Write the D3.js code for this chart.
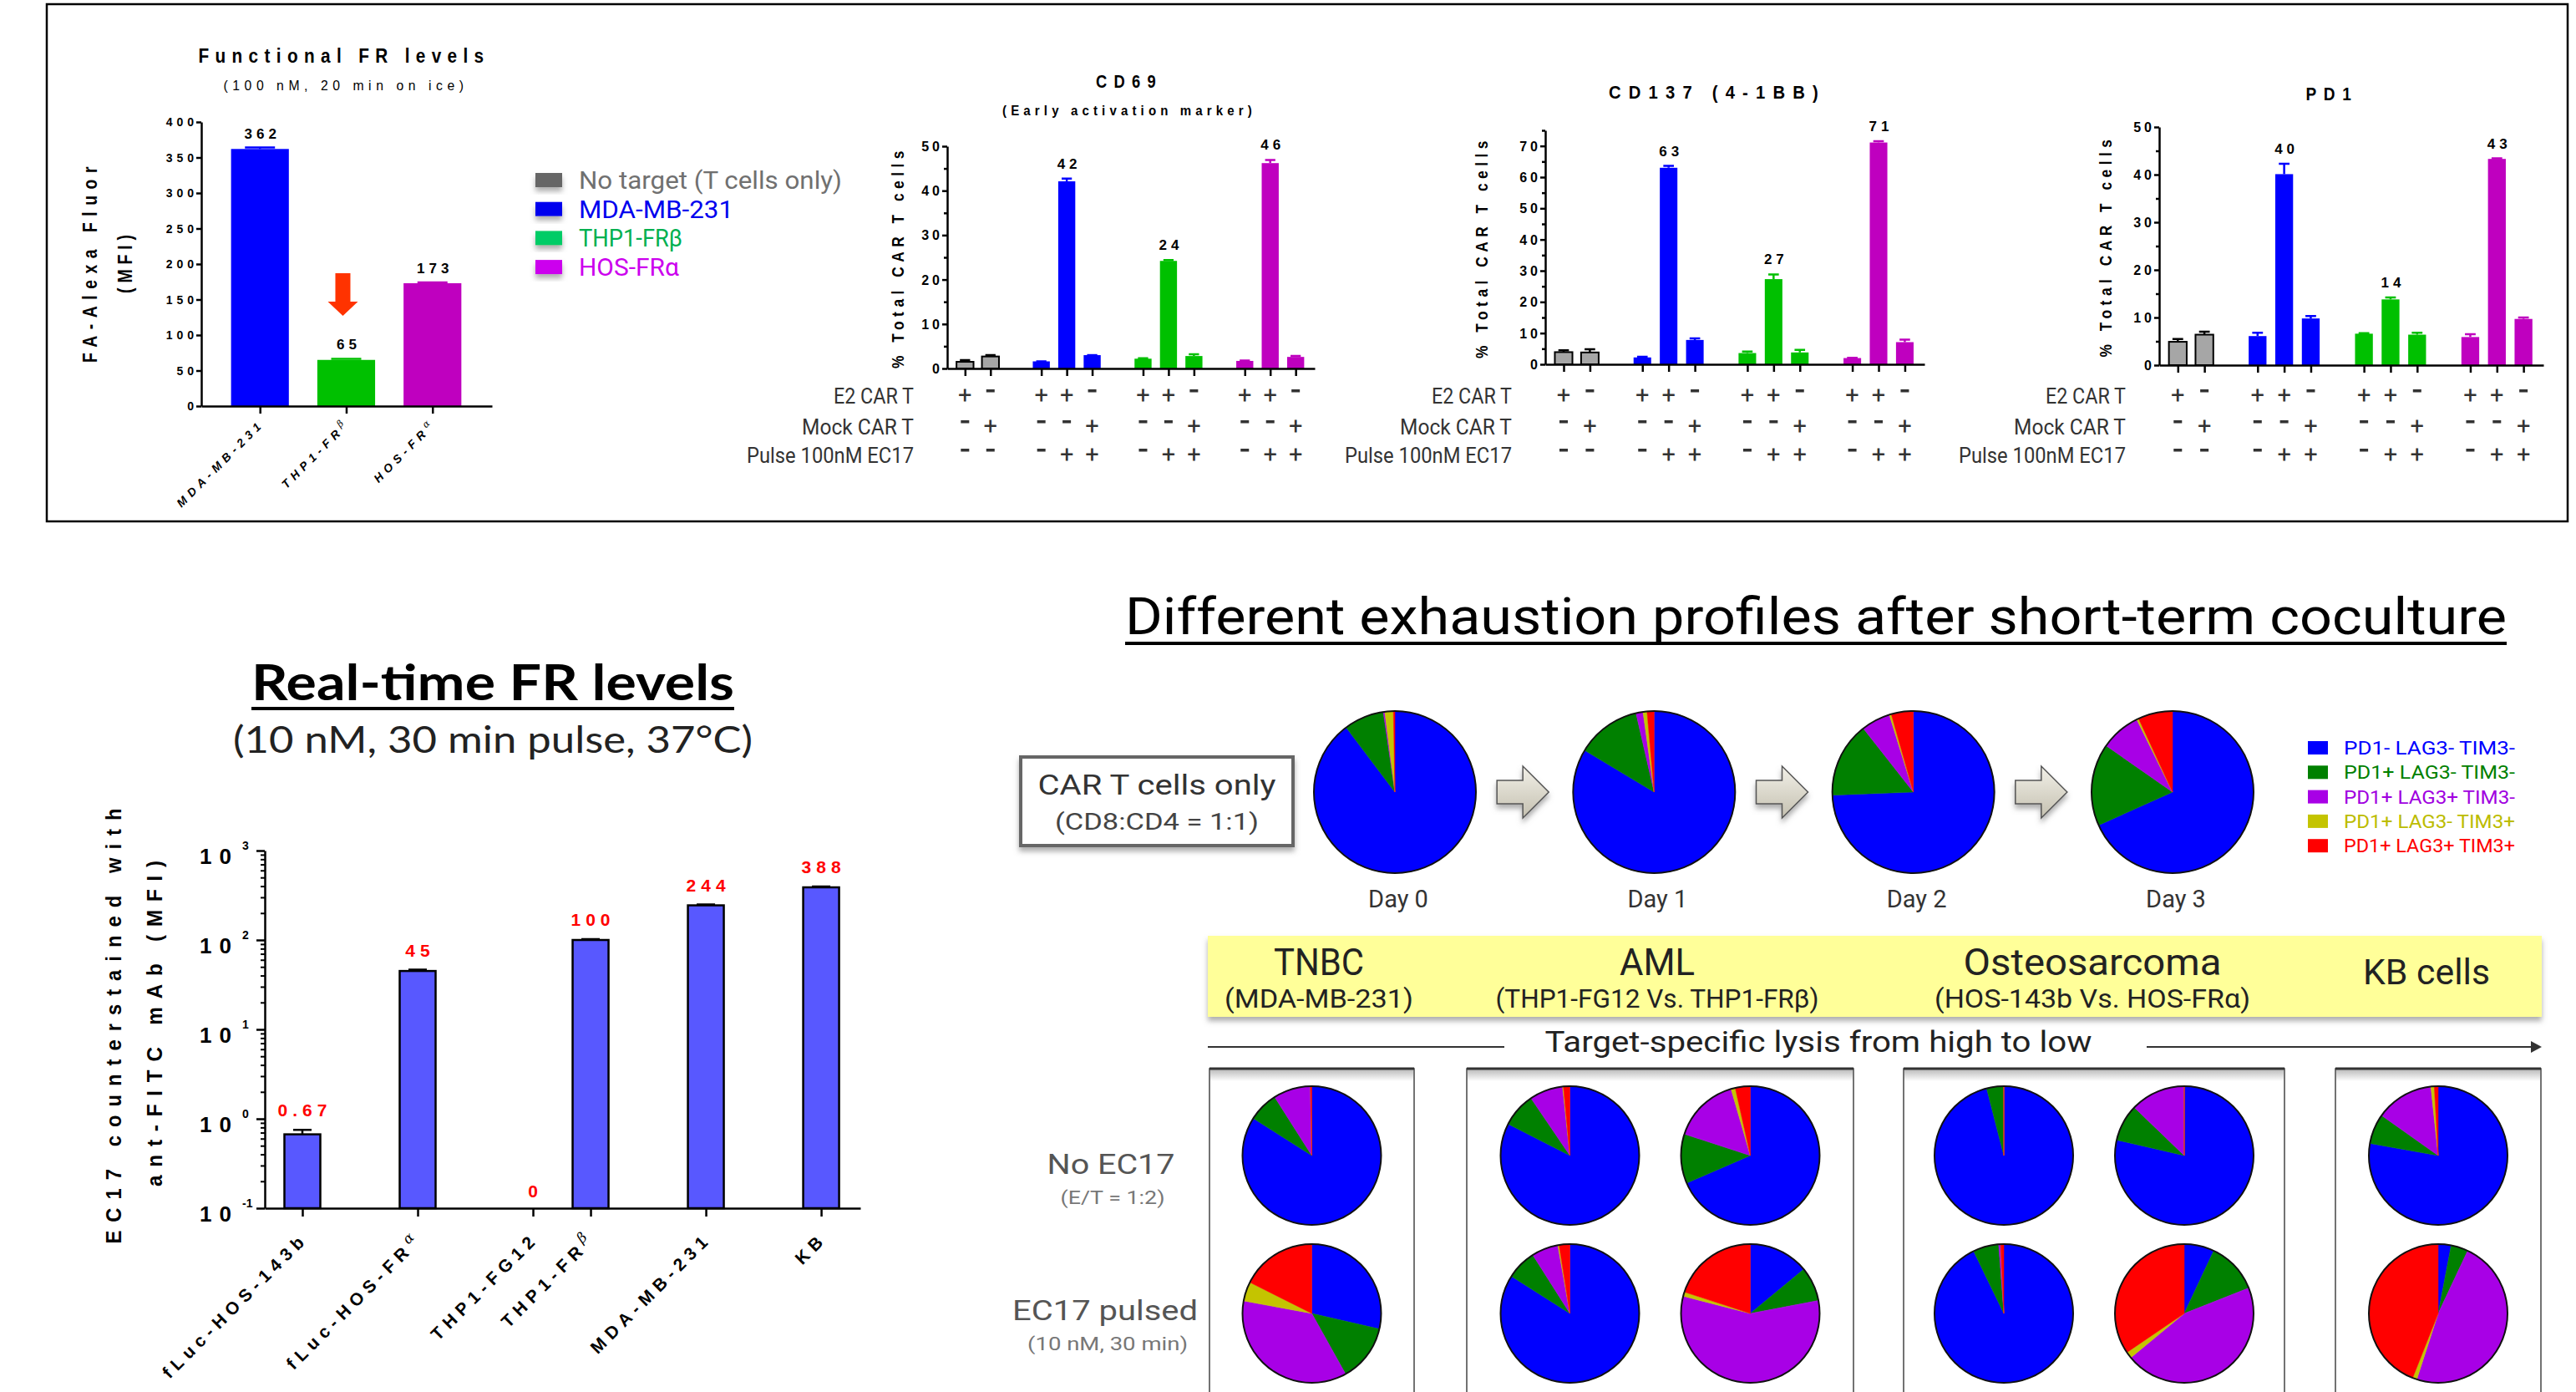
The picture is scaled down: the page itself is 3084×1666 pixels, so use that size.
<!DOCTYPE html>
<html lang="en">
<head>
<meta charset="utf-8">
<title>CAR T activation and exhaustion</title>
<script src="https://cdn.jsdelivr.net/npm/d3@7"></script>
<style>
  body { margin: 0; background: #fff; }
  svg { display: block; }
</style>
</head>
<body>
<div id="chart"></div>
<script>
// ---------- data ----------
// functional FR levels (top left)
const frCells = ["MDA-MB-231", "THP1-FRβ", "HOS-FRα"];
const frValues = [362, 65, 173];
const frErrors = [2, 1.5, 1];
const frColors = ["#0000ff", "#00c000", "#bf00bf"];
const frTicks = d3.range(0, 401, 50);

const legendNames = ["No target (T cells only)", "MDA-MB-231", "THP1-FRβ", "HOS-FRα"];
const legendSwatch = ["#666666", "#0000ee", "#00cc66", "#cc00ee"];
const legendText = ["#707070", "#0000ee", "#00b050", "#cc00ee"];

// activation markers, 11 bars per panel
const barGroups = ["none", "none", "mda", "mda", "mda", "thp", "thp", "thp", "hos", "hos", "hos"];
const groupColors = { none: "#a6a6a6", mda: "#0000ff", thp: "#00c000", hos: "#bf00bf" };
const e2Signs    = ["+", "-", "+", "+", "-", "+", "+", "-", "+", "+", "-"];
const mockSigns  = ["-", "+", "-", "-", "+", "-", "-", "+", "-", "-", "+"];
const pulseSigns = ["-", "-", "-", "+", "+", "-", "+", "+", "-", "+", "+"];
const signRowNames = ["E2 CAR T", "Mock CAR T", "Pulse 100nM EC17"];
const labelledBars = [3, 6, 9];

const cd69Values  = [1.5, 2.7, 1.6, 42.1, 3.0, 2.2, 24.2, 2.8, 1.7, 46.2, 2.6];
const cd69Errors  = [0.4, 0.3, 0.0, 0.6, 0.0, 0.1, 0.2, 0.4, 0.1, 0.7, 0.2];
const cd137Values = [3.9, 3.8, 2.2, 63.0, 7.8, 3.6, 27.3, 3.8, 2.0, 71.1, 7.1];
const cd137Errors = [0.6, 1.0, 0.2, 0.6, 0.5, 0.5, 1.5, 0.8, 0.1, 0.4, 0.8];
const pd1Values   = [4.9, 6.4, 6.1, 40.1, 9.8, 6.6, 13.8, 6.4, 5.9, 43.3, 9.7];
const pd1Errors   = [0.6, 0.6, 0.7, 2.2, 0.5, 0.1, 0.4, 0.4, 0.6, 0.1, 0.3];

// real-time FR levels (bottom left)
const rtCells = ["fLuc-HOS-143b", "fLuc-HOS-FRα", "THP1-FG12", "THP1-FRβ", "MDA-MB-231", "KB"];
const rtValues = [0.67, 45, 0, 100, 244, 388];
const rtErrors = [0.08, 1.5, 0, 2, 5, 8];
const rtLabels = ["0.67", "45", "0", "100", "244", "388"];
const rtTicks = [0.1, 1, 10, 100, 1000];

// exhaustion pies: slices clockwise from 12 o'clock
const phenotypes = ["PD1- LAG3- TIM3-", "PD1+ LAG3- TIM3-", "PD1+ LAG3+ TIM3-", "PD1+ LAG3- TIM3+", "PD1+ LAG3+ TIM3+"];
const phenoColors = ["#0000ff", "#008000", "#a800e6", "#c4c400", "#ff0000"];
const phenoText = ["#0000ff", "#008000", "#a000e0", "#bcbc00", "#ff0000"];
const days = ["Day 0", "Day 1", "Day 2", "Day 3"];
const dayPies = [
  [89.7, 8.0, 0.3, 1.7, 0.3],
  [83.6, 12.8, 1.4, 0.8, 1.4],
  [74.4, 15.0, 5.8, 0.4, 4.4],
  [68.3, 16.4, 8.0, 0.4, 6.9]
];
const targetNames = ["TNBC", "AML", "Osteosarcoma", "KB cells"];
const targetSubs = ["(MDA-MB-231)", "(THP1-FG12 Vs. THP1-FRβ)", "(HOS-143b Vs. HOS-FRα)", ""];
const pieTarget = [0, 1, 1, 2, 2, 3];   // MDA, FG12, FRβ, 143b, FRα, KB
const noEc17Pies = [
  [84.0, 7.0, 8.7, 0.0, 0.3],
  [82.5, 8.0, 7.8, 0.2, 1.5],
  [68.5, 11.5, 15.5, 1.0, 3.5],
  [96.0, 4.0, 0.0, 0.0, 0.0],
  [78.6, 8.6, 12.8, 0.0, 0.0],
  [77.8, 7.0, 13.5, 0.8, 0.9]
];
const ec17Pies = [
  [28.6, 13.3, 36.0, 4.5, 17.6],
  [84.0, 7.0, 6.2, 0.3, 2.5],
  [14.0, 8.0, 57.0, 1.0, 20.0],
  [92.8, 6.0, 0.5, 0.0, 0.7],
  [7.0, 12.0, 45.0, 1.5, 34.5],
  [3.0, 4.0, 48.0, 1.0, 44.0]
];

// ---------- setup ----------
const W = 3084, H = 1666;
const BOLD = "'Liberation Sans', Arial, sans-serif";
const SANS = "Roboto, 'Open Sans', sans-serif";

const svg = d3.select("#chart").append("svg")
  .attr("width", W).attr("height", H)
  .style("background", "#fff");

const defs = svg.append("defs");
defs.append("filter").attr("id", "shadow")
  .attr("x", "-20%").attr("y", "-30%").attr("width", "140%").attr("height", "180%")
  .append("feDropShadow").attr("dx", 0).attr("dy", 5).attr("stdDeviation", 3)
  .attr("flood-color", "#777").attr("flood-opacity", 0.6);
const ag = defs.append("linearGradient").attr("id", "arrowfill").attr("x1", 0).attr("y1", 0).attr("x2", 0).attr("y2", 1);
ag.append("stop").attr("offset", "0%").attr("stop-color", "#f2f0e8");
ag.append("stop").attr("offset", "100%").attr("stop-color", "#c4c0b0");
const bg = defs.append("linearGradient").attr("id", "boxtop").attr("x1", 0).attr("y1", 0).attr("x2", 0).attr("y2", 1);
bg.append("stop").attr("offset", "0%").attr("stop-color", "#bbb");
bg.append("stop").attr("offset", "100%").attr("stop-color", "#fff");

function txt(g, x, y, s, o = {}) {
  const t = g.append("text").attr("x", x).attr("y", y)
    .attr("font-family", o.family || SANS)
    .attr("font-size", o.size || 20)
    .attr("font-weight", o.weight || "normal")
    .attr("fill", o.fill || "#000")
    .attr("text-anchor", o.anchor || "start");
  if (o.ls) t.attr("letter-spacing", o.ls);
  if (o.len) t.attr("textLength", o.len).attr("lengthAdjust", "spacingAndGlyphs");
  if (o.transform) t.attr("transform", o.transform);
  t.text(s);
  return t;
}

// names ending in a greek letter get a small raised italic letter
function greekText(t, s, size) {
  const m = s.match(/^(.*?)([αβ])$/);
  if (!m) { t.text(s); return; }
  t.text(null);
  t.append("tspan").text(m[1]);
  t.append("tspan").text(m[2])
    .attr("font-family", "'DejaVu Serif', serif").attr("font-style", "italic")
    .attr("font-weight", "normal").attr("font-size", size * 0.8).attr("dy", -size * 0.45);
}

function styleAxis(g, w) {
  g.selectAll("path, line").attr("stroke", "#000").attr("stroke-width", w);
  g.selectAll("text").remove();
}

// ---------- top frame ----------
svg.append("rect").attr("x", 56).attr("y", 5).attr("width", 3018).attr("height", 619)
  .attr("fill", "none").attr("stroke", "#000").attr("stroke-width", 2.5);

// ---------- functional FR levels ----------
{
  const g = svg.append("g");
  const x = d3.scaleLinear().domain([-0.68, 2.69]).range([241, 589]);
  const y = d3.scaleLinear().domain([0, 400]).range([486, 146]);
  const bw = x(0.67) - x(0);

  txt(g, 412, 75, "Functional FR levels", { family: BOLD, weight: "bold", size: 24, ls: 8.5, anchor: "middle", len: 349 });
  txt(g, 414, 108, "(100 nM, 20 min on ice)", { family: BOLD, size: 17, ls: 6, anchor: "middle", len: 293 });

  g.selectAll(".bar").data(frValues).join("rect").attr("class", "bar")
    .attr("x", (d, i) => x(i) - bw / 2).attr("width", bw)
    .attr("y", d => y(d)).attr("height", d => y(0) - y(d))
    .attr("fill", (d, i) => frColors[i]);
  g.selectAll(".err").data(frValues).join("path").attr("class", "err")
    .attr("d", (d, i) => `M${x(i)},${y(d)}V${y(d + frErrors[i])}M${x(i) - bw * 0.26},${y(d + frErrors[i])}H${x(i) + bw * 0.26}`)
    .attr("stroke", (d, i) => frColors[i]).attr("stroke-width", 2.5).attr("fill", "none");
  g.selectAll(".val").data(frValues).join("text").attr("class", "val")
    .attr("x", (d, i) => x(i) + 3).attr("y", (d, i) => y(d + frErrors[i]) - 11)
    .attr("text-anchor", "middle").attr("font-family", BOLD).attr("font-weight", "bold")
    .attr("font-size", 17).attr("letter-spacing", 5).text(d => d);

  const ya = g.append("g").attr("transform", `translate(${x.range()[0]},0)`)
    .call(d3.axisLeft(y).tickValues(frTicks).tickSize(6).tickSizeOuter(0));
  styleAxis(ya, 2.5);
  g.selectAll(".ytl").data(frTicks).join("text").attr("class", "ytl")
    .attr("x", 237).attr("y", d => y(d) + 5).attr("text-anchor", "end")
    .attr("font-family", BOLD).attr("font-weight", "bold").attr("font-size", 14).attr("letter-spacing", 5)
    .text(d => d);
  const xa = g.append("g").attr("transform", `translate(0,${y(0)})`)
    .call(d3.axisBottom(x).tickValues([0, 1, 2]).tickSize(9).tickSizeOuter(0));
  styleAxis(xa, 2.5);
  frCells.forEach((c, i) => {
    const t = g.append("text").attr("text-anchor", "end")
      .attr("transform", `translate(${x(i) + 6},${y(0) + 22}) rotate(-45)`)
      .attr("font-family", BOLD).attr("font-weight", "bold").attr("font-style", "italic")
      .attr("font-size", 14).attr("letter-spacing", 5.5);
    greekText(t, c, 14);
  });

  txt(g, 116, 313, "FA-Alexa Fluor", { family: BOLD, weight: "bold", size: 23, ls: 9, anchor: "middle", len: 242, transform: "rotate(-90,116,313)" });
  txt(g, 158, 313, "(MFI)", { family: BOLD, weight: "bold", size: 23, ls: 7, anchor: "middle", len: 76, transform: "rotate(-90,158,313)" });

  // red arrow pointing at THP1-FRβ
  const ax = x(1) - 4, t0 = y(187), t1 = y(147), t2 = y(127);
  g.append("path")
    .attr("d", `M${ax - 9},${t0}H${ax + 9}V${t1}H${ax + 18}L${ax},${t2}L${ax - 18},${t1}H${ax - 9}Z`)
    .attr("fill", "#ff3300");

  // legend
  legendNames.forEach((n, i) => {
    const yy = 226 + i * 34.7;
    g.append("rect").attr("x", 641).attr("y", yy - 19).attr("width", 32).attr("height", 17)
      .attr("fill", legendSwatch[i]).attr("filter", "url(#shadow)");
    txt(g, 693, yy, n, { size: 30, fill: legendText[i], len: [315, 185, 124, 120][i] });
  });
}

// ---------- activation marker panels ----------
function activationPanel(cfg) {
  const g = svg.append("g");
  const x = d3.scaleLinear().domain([-0.7, 13.75]).range([cfg.x0, cfg.x1]);
  const y = d3.scaleLinear().domain([0, cfg.yMax]).range([cfg.y0, cfg.y1]);
  const slot = i => i < 2 ? i : i + 1 + Math.floor((i - 2) / 3);
  const bw = (x(1) - x(0)) * 0.67;

  const bars = g.selectAll(".bar").data(cfg.values).join("g").attr("class", "bar");
  bars.append("rect")
    .attr("x", (d, i) => x(slot(i)) - bw / 2).attr("width", bw)
    .attr("y", d => y(d)).attr("height", d => y(0) - y(d))
    .attr("fill", (d, i) => groupColors[barGroups[i]])
    .attr("stroke", (d, i) => barGroups[i] === "none" ? "#000" : "none")
    .attr("stroke-width", 2);
  bars.append("path")
    .attr("d", (d, i) => {
      const cx = x(slot(i)), top = y(d + cfg.errors[i]);
      return `M${cx},${y(d)}V${top}M${cx - bw * 0.3},${top}H${cx + bw * 0.3}`;
    })
    .attr("stroke", (d, i) => barGroups[i] === "none" ? "#000" : groupColors[barGroups[i]])
    .attr("stroke-width", 2.5).attr("fill", "none");

  labelledBars.forEach(i => {
    txt(g, x(slot(i)) + 3, y(cfg.values[i] + cfg.errors[i]) - 12, d3.format(".0f")(cfg.values[i]),
      { family: BOLD, weight: "bold", size: 17, ls: 5, anchor: "middle" });
  });

  const major = d3.range(0, cfg.yMax + 0.1, 10);
  const minor = d3.range(5, cfg.yMax + 0.1, 10);
  const ya = g.append("g").attr("transform", `translate(${cfg.x0},0)`)
    .call(d3.axisLeft(y).tickValues(major).tickSize(6).tickSizeOuter(0));
  styleAxis(ya, 2.5);
  const ym = g.append("g").attr("transform", `translate(${cfg.x0},0)`)
    .call(d3.axisLeft(y).tickValues(minor).tickSize(4).tickSizeOuter(0));
  styleAxis(ym, 2.5);
  ym.select(".domain").remove();
  g.selectAll(".ytl").data(major).join("text").attr("class", "ytl")
    .attr("x", cfg.x0 - 5).attr("y", d => y(d) + 6).attr("text-anchor", "end")
    .attr("font-family", BOLD).attr("font-weight", "bold").attr("font-size", 16).attr("letter-spacing", 4)
    .text(d => d);
  const xa = g.append("g").attr("transform", `translate(0,${cfg.y0})`)
    .call(d3.axisBottom(x).tickValues(cfg.values.map((d, i) => slot(i))).tickSize(9).tickSizeOuter(0));
  styleAxis(xa, 2.5);

  txt(g, cfg.titleX, cfg.titleY, cfg.title, { family: BOLD, weight: "bold", size: 22, ls: 10, anchor: "middle", len: cfg.titleLen });
  if (cfg.subtitle) txt(g, cfg.titleX, cfg.titleY + 33, cfg.subtitle, { family: BOLD, weight: "bold", size: 16, ls: 5.5, anchor: "middle", len: 304 });

  const ym0 = (cfg.y0 + cfg.y1) / 2;
  txt(g, cfg.labelX, ym0, "% Total CAR T cells", { family: BOLD, weight: "bold", size: 20, ls: 6.4, anchor: "middle", len: 266, transform: `rotate(-90,${cfg.labelX},${ym0})` });

  [e2Signs, mockSigns, pulseSigns].forEach((row, r) => {
    const by = [483, 520, 554][r];
    txt(g, cfg.x0 - 40, by, signRowNames[r], { size: 26, fill: "#333", anchor: "end", len: [96, 134, 200][r] });
    row.forEach((s, i) => {
      if (s === "+") txt(g, x(slot(i)), by, "+", { size: 29, fill: "#333", anchor: "middle" });
      else g.append("rect").attr("x", x(slot(i)) - 5).attr("y", by - 17).attr("width", 10).attr("height", 3.5).attr("fill", "#333");
    });
  });
}

activationPanel({ title: "CD69", titleLen: 80, subtitle: "(Early activation marker)", titleX: 1352, titleY: 105,
  values: cd69Values, errors: cd69Errors, yMax: 50, x0: 1134, x1: 1574, y0: 441, y1: 175, labelX: 1082 });
activationPanel({ title: "CD137 (4-1BB)", titleLen: 260, titleX: 2056, titleY: 118,
  values: cd137Values, errors: cd137Errors, yMax: 75, x0: 1850, x1: 2304, y0: 436, y1: 156, labelX: 1781 });
activationPanel({ title: "PD1", titleLen: 63, titleX: 2792, titleY: 120,
  values: pd1Values, errors: pd1Errors, yMax: 50, x0: 2585, x1: 3045, y0: 437, y1: 152, labelX: 2528 });

// ---------- real-time FR levels ----------
{
  const g = svg.append("g");
  const slotOf = i => i <= 2 ? i : i - 0.5;
  const x = d3.scaleLinear().domain([-0.326, 4.84]).range([317, 1030]);
  const y = d3.scaleLog().domain([0.1, 1000]).range([1446, 1018]);
  const bw = 43;

  txt(g, 590, 838, "Real-time FR levels", { family: "Lato, " + SANS, weight: "bold", size: 60, anchor: "middle", len: 578 });
  g.append("line").attr("x1", 301).attr("x2", 879).attr("y1", 848).attr("y2", 848).attr("stroke", "#000").attr("stroke-width", 4);
  txt(g, 590, 901, "(10 nM, 30 min pulse, 37°C)", { family: "Lato, " + SANS, size: 44, fill: "#222", anchor: "middle", len: 622 });

  const shown = rtValues.map((v, i) => ({ v, i })).filter(d => d.v > 0);
  g.selectAll(".bar").data(shown).join("rect").attr("class", "bar")
    .attr("x", d => x(slotOf(d.i)) - bw / 2).attr("width", bw)
    .attr("y", d => y(d.v)).attr("height", d => y(0.1) - y(d.v))
    .attr("fill", "#5858ff").attr("stroke", "#000").attr("stroke-width", 2.5);
  g.selectAll(".err").data(shown).join("path").attr("class", "err")
    .attr("d", d => {
      const cx = x(slotOf(d.i)), top = y(d.v + rtErrors[d.i]);
      return `M${cx},${y(d.v)}V${top}M${cx - 11},${top}H${cx + 11}`;
    })
    .attr("stroke", "#000").attr("stroke-width", 2.5);
  rtLabels.forEach((l, i) => {
    const v = rtValues[i];
    const ly = v > 0 ? y(v + rtErrors[i]) - 16 : y(0.1) - 13;
    txt(g, x(slotOf(i)) + 3, ly, l, { family: BOLD, weight: "bold", size: 21, ls: 6, fill: "#ff0000", anchor: "middle" });
  });

  const ya = g.append("g").attr("transform", "translate(317,0)")
    .call(d3.axisLeft(y).tickValues(rtTicks).tickSize(10).tickSizeOuter(0));
  styleAxis(ya, 2.5);
  const minorTicks = [];
  rtTicks.slice(0, -1).forEach(t => d3.range(2, 10).forEach(k => minorTicks.push(t * k)));
  const ym = g.append("g").attr("transform", "translate(317,0)")
    .call(d3.axisLeft(y).tickValues(minorTicks).tickSize(5).tickSizeOuter(0));
  styleAxis(ym, 2);
  ym.select(".domain").remove();
  rtTicks.forEach(t => {
    const e = Math.round(Math.log10(t));
    txt(g, 286, y(t) + 16, "10", { family: BOLD, weight: "bold", size: 26, ls: 9, anchor: "end" });
    txt(g, 290, y(t) - 1, String(e), { family: BOLD, weight: "bold", size: 14, anchor: "start" });
  });
  const xa = g.append("g").attr("transform", `translate(0,${y(0.1)})`)
    .call(d3.axisBottom(x).tickValues(rtCells.map((c, i) => slotOf(i))).tickSize(10).tickSizeOuter(0));
  styleAxis(xa, 2.5);
  rtCells.forEach((c, i) => {
    const t = g.append("text").attr("text-anchor", "end")
      .attr("transform", `translate(${x(slotOf(i)) + 8},${y(0.1) + 38}) rotate(-45)`)
      .attr("font-family", BOLD).attr("font-weight", "bold").attr("font-size", 21).attr("letter-spacing", 6.5);
    greekText(t, c, 21);
  });

  txt(g, 145, 1223, "EC17 counterstained with", { family: BOLD, weight: "bold", size: 26, ls: 11, anchor: "middle", len: 531, transform: "rotate(-90,145,1223)" });
  txt(g, 194, 1220, "ant-FITC mAb (MFI)", { family: BOLD, weight: "bold", size: 26, ls: 10.5, anchor: "middle", len: 400, transform: "rotate(-90,194,1220)" });
}

// ---------- exhaustion profiles ----------
{
  const g = svg.append("g");
  const pie = d3.pie().sort(null).value(d => d);

  function drawPie(cx, cy, r, vals) {
    const arc = d3.arc().innerRadius(0).outerRadius(r);
    const pg = g.append("g").attr("transform", `translate(${cx},${cy})`);
    pg.selectAll("path").data(pie(vals)).join("path")
      .attr("d", arc).attr("fill", (d, i) => phenoColors[i])
      .attr("stroke", (d, i) => phenoColors[i]).attr("stroke-width", 0.5);
    pg.append("circle").attr("r", r).attr("fill", "none").attr("stroke", "#111").attr("stroke-width", 2);
  }

  txt(g, 2174, 759, "Different exhaustion profiles after short-term coculture", { size: 62, anchor: "middle", len: 1654 });
  g.append("line").attr("x1", 1347).attr("x2", 3001).attr("y1", 770).attr("y2", 770).attr("stroke", "#000").attr("stroke-width", 4);

  // CAR T only box
  g.append("rect").attr("x", 1222).attr("y", 906).attr("width", 326).attr("height", 106)
    .attr("fill", "#fff").attr("stroke", "#666").attr("stroke-width", 4).attr("filter", "url(#shadow)");
  txt(g, 1385, 951, "CAR T cells only", { size: 33, fill: "#333", anchor: "middle", len: 285 });
  txt(g, 1385, 993, "(CD8:CD4 = 1:1)", { size: 28, fill: "#444", anchor: "middle", len: 244 });

  const dayX = d3.scalePoint().domain(days).range([1670, 2601]);
  days.forEach((d, i) => {
    drawPie(dayX(d), 948, 97, dayPies[i]);
    txt(g, dayX(d) + 4, 1086, d, { size: 29, fill: "#333", anchor: "middle" });
    if (i < days.length - 1) {
      const mx = (dayX(d) + dayX(days[i + 1])) / 2 - 2, my = 948;
      g.append("path")
        .attr("d", `M${mx - 31},${my - 14}H${mx}V${my - 31}L${mx + 31},${my}L${mx},${my + 31}V${my + 14}H${mx - 31}Z`)
        .attr("fill", "url(#arrowfill)").attr("stroke", "#555").attr("stroke-width", 1.5).attr("filter", "url(#shadow)");
    }
  });

  phenotypes.forEach((p, i) => {
    const yy = 903 + i * 29.3;
    g.append("rect").attr("x", 2763).attr("y", yy - 16).attr("width", 24).attr("height", 16).attr("fill", phenoColors[i]);
    txt(g, 2806, yy, p, { size: 22, fill: phenoText[i], len: 205 });
  });

  // target banner
  g.append("rect").attr("x", 1446).attr("y", 1120).attr("width", 1597).attr("height", 97)
    .attr("fill", "#ffff99").attr("filter", "url(#shadow)");
  const colX = [1579, 1984, 2505, 2905];
  targetNames.forEach((n, i) => {
    if (targetSubs[i]) {
      txt(g, colX[i], 1167, n, { size: 44, fill: "#222", anchor: "middle", len: [108, 90, 309][i] });
      txt(g, colX[i], 1206, targetSubs[i], { size: 31, fill: "#222", anchor: "middle", len: [226, 387, 378][i] });
    } else {
      txt(g, colX[i], 1178, n, { size: 42, fill: "#222", anchor: "middle", len: 152 });
    }
  });

  // lysis arrow
  g.append("line").attr("x1", 1446).attr("x2", 1801).attr("y1", 1253).attr("y2", 1253).attr("stroke", "#333").attr("stroke-width", 2);
  g.append("line").attr("x1", 2570).attr("x2", 3032).attr("y1", 1253).attr("y2", 1253).attr("stroke", "#333").attr("stroke-width", 2);
  g.append("path").attr("d", "M3043,1253L3030,1246V1260Z").attr("fill", "#333");
  txt(g, 2177, 1259, "Target-specific lysis from high to low", { size: 35, fill: "#222", anchor: "middle", len: 655 });

  // target boxes
  const boxes = [[1448, 1693], [1756, 2219], [2279, 2735], [2796, 3042]];
  boxes.forEach(([a, b]) => {
    g.append("rect").attr("x", a).attr("y", 1279).attr("width", b - a).attr("height", 420)
      .attr("fill", "#fff").attr("stroke", "#444").attr("stroke-width", 1.5);
    g.append("rect").attr("x", a + 1).attr("y", 1280).attr("width", b - a - 2).attr("height", 14).attr("fill", "url(#boxtop)");
    g.append("line").attr("x1", a).attr("x2", b).attr("y1", 1279).attr("y2", 1279).attr("stroke", "#333").attr("stroke-width", 3);
  });

  const pieX = pieTarget.map((t, i) => {
    const [a, b] = boxes[t];
    const mates = pieTarget.filter(u => u === t).length;
    const k = pieTarget.indexOf(t);
    return mates === 1 ? (a + b) / 2 : (a + b) / 2 + (i === k ? -108 : 108);
  });
  noEc17Pies.forEach((v, i) => drawPie(pieX[i], 1383, 83, v));
  ec17Pies.forEach((v, i) => drawPie(pieX[i], 1572, 83, v));

  txt(g, 1330, 1405, "No EC17", { size: 33, fill: "#555", anchor: "middle", len: 153 });
  txt(g, 1332, 1441, "(E/T = 1:2)", { size: 22, fill: "#777", anchor: "middle", len: 125 });
  txt(g, 1323, 1580, "EC17 pulsed", { size: 33, fill: "#555", anchor: "middle", len: 222 });
  txt(g, 1326, 1616, "(10 nM, 30 min)", { size: 22, fill: "#777", anchor: "middle", len: 192 });
}
</script>
</body>
</html>
